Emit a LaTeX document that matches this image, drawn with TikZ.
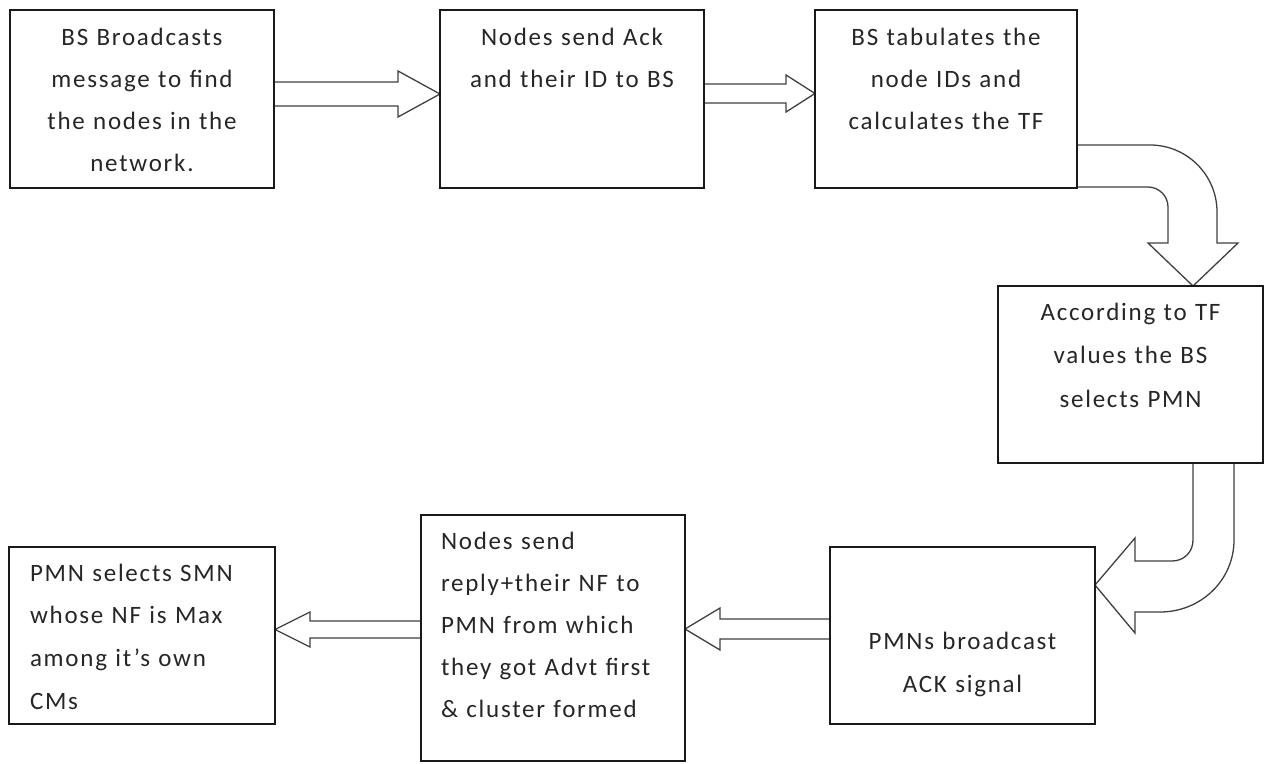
\documentclass[tikz,border=0pt]{standalone}
\usepackage{fontspec}
\setmainfont{Carlito}[LetterSpace=7]
\usetikzlibrary{calc,backgrounds}
\begin{document}
\begin{tikzpicture}[x=1pt,y=-1pt,
  box/.style={draw=black!90, line width=1.4pt, anchor=north west, inner sep=0pt, outer sep=0pt},
  blk/.style={draw=black!75, line width=1.3pt, fill=white, line join=miter},
  txt/.style={inner sep=0pt, outer sep=0pt, text=black!85},
  ls42/.style={font=\fontsize{25}{42}\selectfont},
  ls43/.style={font=\fontsize{25}{43.5}\selectfont},
]
\useasboundingbox (0,0) rectangle (1265,763);

% boxes
\node[box, minimum width=264pt, minimum height=178pt] (b1) at (10,10) {};
\node[box, minimum width=264pt, minimum height=178pt] (b2) at (440,10) {};
\node[box, minimum width=262pt, minimum height=178pt] (b3) at (815,10) {};
\node[box, minimum width=265pt, minimum height=177pt] (b4) at (998,286) {};
\node[box, minimum width=265pt, minimum height=177pt] (b5) at (830,547) {};
\node[box, minimum width=264pt, minimum height=246pt] (b6) at (421,515) {};
\node[box, minimum width=266pt, minimum height=177pt] (b7) at (9,547) {};

% texts
\node[txt, ls42, text width=300pt, align=center, anchor=north] (t1) at ($(b1.north)+(0,5)$)
  {\rule{0pt}{30pt}BS Broadcasts\\ message to find\\ the nodes in the\\ network.};
\node[txt, ls42, text width=300pt, align=center, anchor=north] (t2) at ($(b2.north)+(0,5)$)
  {\rule{0pt}{30pt}Nodes send Ack\\ and their ID to BS};
\node[txt, ls42, text width=300pt, align=center, anchor=north] (t3) at ($(b3.north)+(0,5)$)
  {\rule{0pt}{30pt}BS tabulates the\\ node IDs and\\ calculates the TF};
\node[txt, ls43, text width=300pt, align=center, anchor=north] (t4) at ($(b4.north)+(0,4)$)
  {\rule{0pt}{30pt}According to TF\\ values the BS\\ selects PMN};
\node[txt, ls43, text width=300pt, align=center, anchor=north] (t5) at ($(b5.north)+(0,72)$)
  {\rule{0pt}{30pt}PMNs broadcast\\ ACK signal};
\node[txt, ls42, text width=255pt, align=left, anchor=north west] (t6) at ($(b6.north west)+(20,4)$)
  {\rule{0pt}{30pt}Nodes send\\ reply+their NF to\\ PMN from which\\ they got Advt first\\ \& cluster formed};
\node[txt, font=\fontsize{25}{42.7}\selectfont, text width=255pt, align=left, anchor=north west] (t7) at ($(b7.north west)+(21,4)$)
  {\rule{0pt}{30pt}PMN selects SMN\\ whose NF is Max\\ among it’s own\\ CMs};

% block arrows
\begin{scope}[on background layer]
\draw[blk] (b1.east |- 0,82) -- (398,82) -- (398,71) -- (b2.west |- 0,94)
  -- (398,117) -- (398,106) -- (b1.east |- 0,106) -- cycle;
\draw[blk] (b2.east |- 0,84) -- (786,84) -- (786,75) -- (b3.west |- 0,93.5)
  -- (786,112) -- (786,103) -- (b2.east |- 0,103) -- cycle;
% curved arrow b3 -> b4
\draw[blk] (b3.east |- 0,145) -- (1150,145) .. controls (1187,145) and (1217,175) .. (1217,212)
  -- (1217,243) -- (1238,243) -- (b4.north -| 1193,0) -- (1148,243) -- (1168,243)
  -- (1168,207) .. controls (1168,196) and (1159,187) .. (1148,187) -- (b3.east |- 0,187) -- cycle;
% curved arrow b4 -> b5
\draw[blk] (b4.south -| 1193,0) -- (1193,540) .. controls (1193,552) and (1184,561) .. (1172,561)
  -- (1135,561) -- (1135,538) -- (b5.east |- 0,585) -- (1135,633) -- (1135,612)
  -- (1160,612) .. controls (1201,612) and (1234,580) .. (1234,540) -- (b4.south -| 1234,0) -- cycle;
% left arrows
\draw[blk] (b5.west |- 0,619) -- (720,619) -- (720,608) -- (b6.east |- 0,629)
  -- (720,650) -- (720,639) -- (b5.west |- 0,639) -- cycle;
\draw[blk] (b6.west |- 0,621) -- (310,621) -- (310,612) -- (b7.east |- 0,629.5)
  -- (310,647) -- (310,638) -- (b6.west |- 0,638) -- cycle;
\end{scope}
\end{tikzpicture}
\end{document}
